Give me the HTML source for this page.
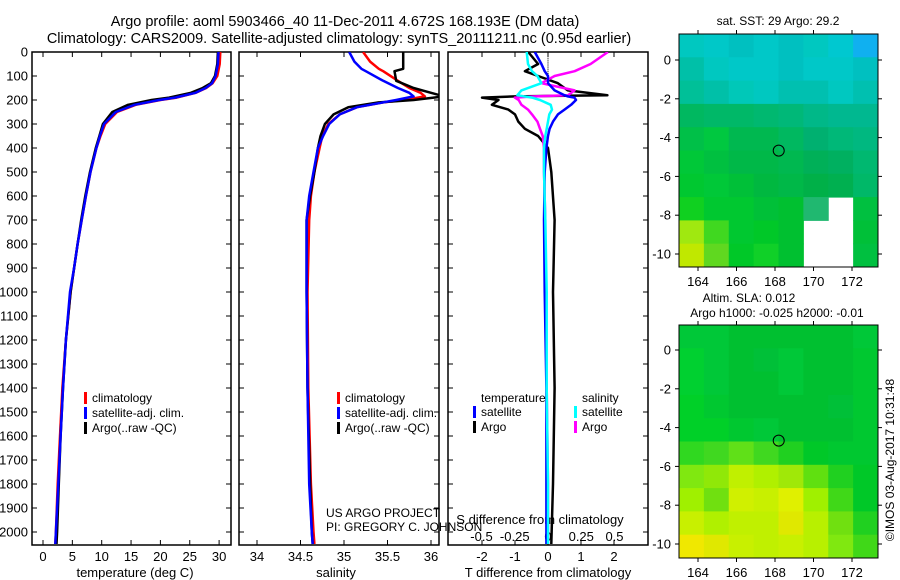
<!DOCTYPE html>
<html><head><meta charset="utf-8"><style>
body{margin:0;background:#fff;}
svg{display:block;font-family:"Liberation Sans",sans-serif;}
</style></head><body>
<svg id="c" width="900" height="580" viewBox="0 0 900 580">
<text x="345" y="26" font-size="14.5" text-anchor="middle">Argo profile: aoml 5903466_40 11-Dec-2011 4.672S 168.193E (DM data)</text>
<text x="339" y="43" font-size="14.5" text-anchor="middle">Climatology: CARS2009. Satellite-adjusted climatology: synTS_20111211.nc (0.95d earlier)</text>
<g id="g"></g>
</svg>
<script>
const NS='http://www.w3.org/2000/svg';
const G=document.getElementById('g');
function el(t,a,txt){const e=document.createElementNS(NS,t);for(const k in a)e.setAttribute(k,a[k]);if(txt!==undefined)e.textContent=txt;G.appendChild(e);return e;}

// ---------- data ----------
const depthTicks=[0,100,200,300,400,500,600,700,800,900,1000,1100,1200,1300,1400,1500,1600,1700,1800,1900,2000];
const tempTicks=[0,5,10,15,20,25,30];
const salTicks=[34,34.5,35,35.5,36];
const tdiffTicks=[-2,-1,0,1,2];
const sdiffTicks=[-0.5,-0.25,0,0.25,0.5];
const latTicks=[0,-2,-4,-6,-8,-10];
const lonTicks=[164,166,168,170,172];

const tDepth=[0,50,100,130,150,170,190,200,220,250,300,350,400,500,600,700,800,900,1000,1200,1400,1600,1800,2000,2050];
const tArgo=[29.8,29.7,29.3,28.6,27.2,25.2,21.5,18.5,14.5,11.8,10.2,9.6,9.0,8.0,7.2,6.5,5.9,5.3,4.7,3.9,3.4,3.0,2.7,2.4,2.3];
const tClim=[30.2,30.1,29.7,28.9,27.8,26.0,22.8,20.0,15.8,12.6,10.6,9.8,9.1,8.1,7.3,6.6,5.9,5.3,4.7,3.9,3.3,2.9,2.5,2.2,2.1];
const tSat=[29.9,29.8,29.4,28.8,27.7,26.0,22.5,19.8,15.6,12.4,10.4,9.7,9.1,8.1,7.3,6.6,5.9,5.3,4.6,3.9,3.4,3.0,2.6,2.2,2.1];

const sDepth=[0,40,70,80,120,150,170,185,200,210,230,260,300,350,400,500,600,700,1000,1400,1800,2000,2050];
const sArgo=[35.68,35.68,35.68,35.58,35.6,35.8,36.0,36.15,35.8,35.4,35.05,34.88,34.78,34.73,34.7,34.66,34.61,34.57,34.57,34.58,34.61,34.63,34.64];
const sClim=[35.22,35.3,35.4,35.45,35.62,35.75,35.88,35.93,35.7,35.45,35.15,34.95,34.82,34.75,34.72,34.66,34.62,34.6,34.58,34.59,34.62,34.65,34.66];
const sSat=[35.06,35.12,35.2,35.25,35.45,35.62,35.75,35.8,35.6,35.45,35.15,34.95,34.83,34.76,34.7,34.65,34.6,34.57,34.57,34.58,34.6,34.63,34.64];

const dDepth=[0,50,80,100,130,160,180,185,190,200,220,240,260,290,320,350,400,500,700,1000,1400,1800,2050];
const dTArgo=[-0.6,-0.3,-0.7,-0.3,0.3,0.6,1.8,-1.0,-2.0,-1.5,-1.7,-1.2,-1.0,-0.9,-0.7,-0.3,0,0.1,0.2,0.15,0.2,0.15,0.1];
const dTSat=[-0.4,-0.2,-0.1,0,0,0.2,0.5,0.6,0.8,0.85,0.7,0.5,0.3,0.15,0.05,0,-0.05,-0.1,-0.12,-0.1,-0.05,-0.05,-0.05];
const dSArgo=[0.45,0.32,0.2,0.05,-0.05,0.2,0.15,-0.1,-0.25,-0.22,-0.2,-0.15,-0.12,-0.08,-0.06,-0.04,-0.03,-0.03,-0.02,-0.02,-0.01,0,0];
const dSSat=[-0.16,-0.15,-0.12,-0.08,-0.05,-0.2,-0.23,-0.18,-0.12,-0.06,0.02,0.03,0.01,0,-0.01,-0.02,-0.03,-0.03,-0.02,-0.01,-0.01,0,0];

// coarse map colour grids (rows top->bottom, cols left->right), "w" = no data
const sstGrid=[
["#00c8c0","#00c8c8","#00c0c0","#00c8c8","#00c0c0","#00c8c0","#00c8d0","#10b0f0"],
["#00c0a8","#00c8c0","#00c8c8","#00c8c8","#00c0c0","#00c8c8","#00c8c8","#00c0c0"],
["#00c098","#00c0a8","#00c8b8","#00c8c0","#00c0b0","#00c0b0","#00c8c0","#00c0b0"],
["#00b860","#00b868","#00b868","#00b870","#00b878","#00b888","#00b890","#00b890"],
["#00c048","#00c840","#00b850","#00b850","#00b860","#00b070","#00b878","#00b880"],
["#00c838","#00c040","#00b848","#00b848","#00b850","#00b058","#00b060","#00b870"],
["#00c830","#00c838","#00c038","#00b840","#00b848","#00b048","#00b050","#00b868"],
["#10d020","#00c830","#00c830","#00c038","#00c030","#20b870","w","#00c040"],
["#a0e810","#40d820","#00c830","#00c828","#00c030","w","w","#00c038"],
["#c0e800","#60d820","#00c828","#10d028","#00c030","w","w","#00c040"]];
const slaGrid=[
["#00c838","#00c838","#00c030","#00c030","#00c030","#00c030","#00c030","#00c838"],
["#00d030","#00c838","#00c030","#00c038","#00c838","#00c030","#00c030","#00c830"],
["#00d030","#00c838","#00c030","#00c030","#00c838","#00c030","#00c030","#00c830"],
["#00d028","#00c830","#00c030","#00c030","#00c030","#00c030","#00c038","#00c830"],
["#00d028","#00d028","#00c830","#00c838","#00c030","#00c030","#00c030","#00c830"],
["#30d820","#40d820","#60e018","#40d820","#20d020","#00c828","#00c830","#00c830"],
["#80e810","#90e808","#c0f000","#b0f000","#a0e808","#60e010","#20d020","#00c828"],
["#a0f000","#70e010","#d0f000","#c8f000","#e0f000","#a0f000","#40d818","#00c828"],
["#c8f000","#b0f000","#c0f000","#c0f000","#e0e800","#b8f000","#70e010","#20d020"],
["#f0e800","#e0e800","#c8f000","#c0f000","#c8f000","#b8f000","#80e810","#40d818"]];

// ---------- helpers ----------
const Y0=52, YPX=0.24;
const yD=d=>Y0+d*YPX;
const PB=545;
function frame(x0,x1,name){
  el('rect',{x:x0,y:Y0,width:x1-x0,height:PB-Y0,fill:'none',stroke:'#000','stroke-width':1.5,});
  depthTicks.forEach(d=>{el('line',{x1:x0,x2:x0+5,y1:yD(d),y2:yD(d),stroke:'#000'});el('line',{x1:x1-5,x2:x1,y1:yD(d),y2:yD(d),stroke:'#000'});});
}
function xTicks(vals,fx,labelY,name){
  vals.forEach(v=>{const x=fx(v);
    el('line',{x1:x,x2:x,y1:PB,y2:PB-5,stroke:'#000'});el('line',{x1:x,x2:x,y1:Y0,y2:Y0+5,stroke:'#000'});
    const t=el('text',{x:x,y:labelY,'font-size':13,'text-anchor':'middle'},String(v));
    });
}
function clipTo(x0,x1,id){const cp=el('clipPath',{id:id});const r=document.createElementNS(NS,'rect');r.setAttribute('x',x0);r.setAttribute('y',Y0);r.setAttribute('width',x1-x0);r.setAttribute('height',PB-Y0);cp.appendChild(r);}
function line(xs,ds,fx,col,name,clip){
  const p=xs.map((v,i)=>(i?'L':'M')+fx(v).toFixed(1)+','+yD(ds[i]).toFixed(1)).join('');
  const e=el('path',{d:p,fill:'none',stroke:col,'stroke-width':2.5,'stroke-linejoin':'round','clip-path':'url(#'+clip+')'});
  
}
function legend(x,y,items){
  items.forEach((it,i)=>{
    el('rect',{x:x,y:y+i*15-10,width:3,height:12,fill:it[0]});
    const t=el('text',{x:x+8,y:y+i*15,'font-size':12},it[1]);
    
  });
}

depthTicks.forEach(d=>{const t=el('text',{x:28,y:yD(d)+4.5,'font-size':13,'text-anchor':'end'},String(d));
  });

// panel 1 temperature
const xT=v=>43+v*5.87;
clipTo(32,231,'c1');
frame(32,231,'temperature-panel');
xTicks(tempTicks,xT,561,'temperature-tick-label');
el('text',{x:135,y:577,'font-size':13,'text-anchor':'middle',},'temperature (deg C)');
line(tClim,tDepth,xT,'#ff0000','temp-climatology-line','c1');
line(tArgo,tDepth,xT,'#000000','temp-argo-line','c1');
line(tSat,tDepth,xT,'#0000ff','temp-satellite-line','c1');
legend(84,402,[['#ff0000','climatology'],['#0000ff','satellite-adj. clim.'],['#000','Argo(..raw -QC)']]);

// panel 2 salinity
const xS=v=>257+(v-34)*87;
clipTo(239,439,'c2');
frame(239,439,'salinity-panel');
xTicks(salTicks,xS,561,'salinity-tick-label');
el('text',{x:336,y:577,'font-size':13,'text-anchor':'middle',},'salinity');
line(sClim,sDepth,xS,'#ff0000','sal-climatology-line','c2');
line(sArgo,sDepth,xS,'#000','sal-argo-line','c2');
line(sSat,sDepth,xS,'#0000ff','sal-satellite-line','c2');
legend(337,402,[['#ff0000','climatology'],['#0000ff','satellite-adj. clim.'],['#000','Argo(..raw -QC)']]);
el('text',{x:326,y:517,'font-size':12,},'US ARGO PROJECT');
el('text',{x:326,y:531,'font-size':12,},'PI: GREGORY C. JOHNSON');

// panel 3 differences
const xdT=v=>548+v*33, xdS=v=>548+v*133;
clipTo(448,648,'c3');
frame(448,648,'difference-panel');
for(let d=0;d<=120;d+=8)el('rect',{x:547.5,y:yD(d),width:1,height:1,fill:'#000'});
xTicks(tdiffTicks,xdT,561,'tdiff-tick-label');
sdiffTicks.forEach(v=>{const t=el('text',{x:xdS(v),y:541,'font-size':13,'text-anchor':'middle'},String(v));});
el('text',{x:540,y:524,'font-size':13,'text-anchor':'middle',},'S difference from climatology');
el('text',{x:548,y:577,'font-size':13,'text-anchor':'middle',},'T difference from climatology');
line(dTArgo,dDepth,xdT,'#000','tdiff-argo-line','c3');
line(dSArgo,dDepth,xdS,'#ff00ff','sdiff-argo-line','c3');
line(dTSat,dDepth,xdT,'#0000ff','tdiff-satellite-line','c3');
line(dSSat,dDepth,xdS,'#00ffff','sdiff-satellite-line','c3');
el('text',{x:481,y:402,'font-size':12,},'temperature');
el('text',{x:582,y:402,'font-size':12,},'salinity');
legend(473,416,[['#0000ff','satellite'],['#000','Argo']]);
legend(574,416,[['#00ffff','satellite'],['#ff00ff','Argo']]);

// maps
function map(top,bottom,lat0y,grid,name){
  const L=679,R=878;
  const lonX=v=>698+(v-164)*19.25, latY=v=>lat0y-v*19.4;
  const rows=grid.length, cols=grid[0].length, cw=(R-L)/cols, ch=(bottom-top)/rows;
  el('rect',{x:L,y:top,width:R-L,height:bottom-top,fill:'#fff'});
  grid.forEach((row,r)=>row.forEach((c,k)=>{if(c==='w')return;
    const e=el('rect',{x:L+k*cw,y:top+r*ch,width:cw+0.5,height:ch+0.5,fill:c});
    }));
  el('rect',{x:L,y:top,width:R-L,height:bottom-top,fill:'none',stroke:'#000','stroke-width':1,});
  lonTicks.forEach(v=>{const x=lonX(v);el('line',{x1:x,x2:x,y1:top,y2:top-4,stroke:'#000'});el('line',{x1:x,x2:x,y1:bottom,y2:bottom+4,stroke:'#000'});
    const t=el('text',{x:x,y:bottom+19,'font-size':13,'text-anchor':'middle'},String(v));});
  latTicks.forEach(v=>{const y=latY(v);el('line',{x1:L-4,x2:L,y1:y,y2:y,stroke:'#000'});el('line',{x1:R,x2:R+4,y1:y,y2:y,stroke:'#000'});
    const t=el('text',{x:L-8,y:y+4.5,'font-size':13,'text-anchor':'end'},String(v));});
  el('circle',{cx:lonX(168.193),cy:latY(-4.672),r:5.5,fill:'none',stroke:'#000',});
}
map(34,267,60,sstGrid,'sst-map');
map(325,558,350,slaGrid,'sla-map');
el('text',{x:778,y:25,'font-size':12,'text-anchor':'middle',},'sat. SST: 29 Argo: 29.2');
el('text',{x:749,y:302,'font-size':12,'text-anchor':'middle',},'Altim. SLA: 0.012');
el('text',{x:777,y:317,'font-size':12,'text-anchor':'middle',},'Argo h1000: -0.025 h2000: -0.01');
el('text',{x:0,y:0,'font-size':12,'text-anchor':'middle',transform:'translate(894,460) rotate(-90)',},'©IMOS 03-Aug-2017 10:31:48');
</script>
</body></html>
